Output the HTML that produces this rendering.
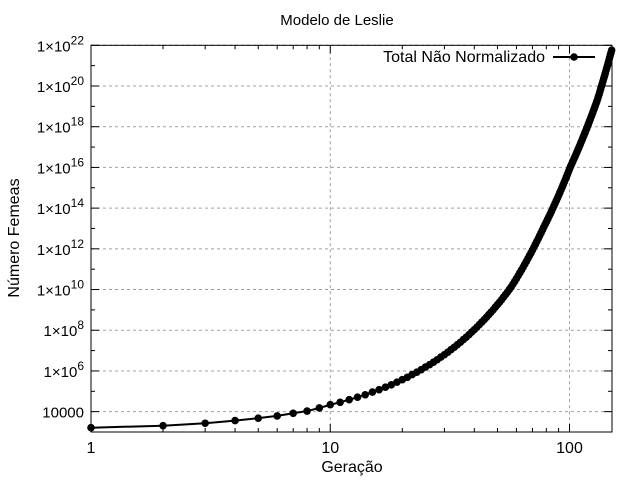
<!DOCTYPE html>
<html><head><meta charset="utf-8"><style>
html,body{margin:0;padding:0;background:#fff;}
svg{display:block;font-family:"Liberation Sans",sans-serif;}
</style></head><body>
<svg id="chart" width="640" height="480" viewBox="0 0 640 480">
<rect width="640" height="480" fill="#fff"/>
<text x="337" y="25" text-anchor="middle" font-size="15">Modelo de Leslie</text>
<text transform="translate(19,238) rotate(-90)" text-anchor="middle" font-size="16">Número Femeas</text>
<text x="352" y="472" text-anchor="middle" font-size="16">Geração</text>
<g id="grid"></g>
<g id="axes"></g>
<g id="series"></g>
<g>
<text x="545" y="62" text-anchor="end" font-size="16">Total Não Normalizado</text>
<line x1="553" y1="57" x2="595" y2="57" stroke="#000" stroke-width="2"/>
<circle cx="574" cy="57" r="3.8" fill="#000"/>
</g>
</svg>
<script>
const xTicks = [1, 10, 100];
const xTickLabels = ["1", "10", "100"];
const yTickExps = [4, 6, 8, 10, 12, 14, 16, 18, 20, 22];
const yTickLabels = ["10000", "6", "8", "10", "12", "14", "16", "18", "20", "22"];
const logValues = [
3.21,3.31,3.43,3.56,3.68,3.79,3.92,4.03,4.18,4.34,
4.46,4.59,4.71,4.83,4.96,5.08,5.20,5.32,5.45,5.57,5.69,5.82,5.94,6.06,6.19,6.31,6.43,6.55,6.68,6.80,6.92,7.05,7.17,7.29,7.41,7.54,
7.66,7.78,7.91,8.03,8.15,8.28,8.40,8.52,8.64,8.77,8.89,9.01,9.14,9.26,9.38,9.50,9.63,9.75,9.87,10.00,10.12,
10.26,10.40,10.54,10.68,10.82,10.96,11.10,11.24,11.38,11.52,11.66,11.80,11.94,12.08,12.22,12.36,12.50,12.64,12.78,12.92,13.06,
13.19,13.32,13.45,13.58,13.71,13.84,13.97,14.10,14.23,14.36,14.49,14.62,14.75,14.88,15.01,15.14,15.27,15.40,15.53,15.66,15.79,15.92,16.05,
16.16,16.27,16.38,16.49,16.60,16.71,16.82,16.93,17.04,17.15,17.26,17.37,17.48,17.59,17.70,17.81,17.92,18.03,18.14,18.25,18.36,18.47,18.58,18.69,18.80,18.91,19.02,19.13,19.24,19.35,
19.48,19.60,19.73,19.86,19.99,20.11,20.24,20.37,20.49,20.62,20.75,20.87,21.00,21.13,21.25,21.38,21.51,21.63,21.76
];
const generations = logValues.map((v, i) => i + 1);

const NS = "http://www.w3.org/2000/svg";
const L = 91, R = 612, T = 45.3, B = 432;
const xMin = 0, xMax = Math.log10(150.5), yMin = 3, yMax = 22;
function xs(g){ return L + (Math.log10(g) - xMin) / (xMax - xMin) * (R - L); }
function ys(e){ return B - (e - yMin) / (yMax - yMin) * (B - T); }
function mk(tag, attrs, parent){ const el = document.createElementNS(NS, tag); for (const k in attrs) el.setAttribute(k, attrs[k]); parent.appendChild(el); return el; }
const grid = document.getElementById('grid'), axes = document.getElementById('axes'), series = document.getElementById('series');

yTickExps.forEach((e, i) => {
  const y = ys(e);
  const gl = mk('line', {x1: L, x2: R, y1: y, y2: y, stroke: '#a0a0a0', 'stroke-width': 1, 'stroke-dasharray': '3,3'}, grid);
  
  
  const t = mk('text', {x: 84, y: y + 6, 'text-anchor': 'end', 'font-size': 15}, axes);
  
  
  if (i === 0) { t.textContent = yTickLabels[i]; }
  else {
    const a = document.createElementNS(NS, 'tspan'); a.textContent = '1×10'; t.appendChild(a);
    const b = document.createElementNS(NS, 'tspan'); b.setAttribute('dy', '-7'); b.setAttribute('font-size', '12'); b.textContent = yTickLabels[i]; t.appendChild(b);
  }
});
for (let e = 3; e <= 22; e++) {
  const y = ys(e), len = (e % 2 === 0) ? 8 : 4;
  mk('line', {x1: L, x2: L + len, y1: y, y2: y, stroke: '#000'}, axes);
  mk('line', {x1: R, x2: R - len, y1: y, y2: y, stroke: '#000'}, axes);
}
xTicks.forEach((v, i) => {
  const x = xs(v);
  if (i > 0) {
    const gl = mk('line', {x1: x, x2: x, y1: T, y2: B, stroke: '#a0a0a0', 'stroke-width': 1, 'stroke-dasharray': '3,3'}, grid);
    
    
  }
  const t = mk('text', {x: x, y: 453, 'text-anchor': 'middle', 'font-size': 16}, axes);
  
  
  t.textContent = xTickLabels[i];
});
for (let d = 1; d <= 100; d *= 10) for (let m = 1; m <= 9; m++) {
  const v = d * m; if (v > 150) continue; const x = xs(v), len = m === 1 ? 8 : 4;
  mk('line', {x1: x, x2: x, y1: B, y2: B - len, stroke: '#000'}, axes);
  mk('line', {x1: x, x2: x, y1: T, y2: T + len, stroke: '#000'}, axes);
}
const frame = mk('rect', {x: L, y: T, width: R - L, height: B - T, fill: 'none', stroke: '#000', 'stroke-width': 1}, axes);



const pts = generations.map((g, i) => xs(g).toFixed(2) + ',' + ys(logValues[i]).toFixed(2)).join(' ');
const line = mk('polyline', {points: pts, fill: 'none', stroke: '#000', 'stroke-width': 2}, series);


generations.forEach((g, i) => {
  const c = mk('circle', {cx: xs(g), cy: ys(logValues[i]), r: 3.8, fill: '#000'}, series);
  
  
});
</script>
</body></html>
